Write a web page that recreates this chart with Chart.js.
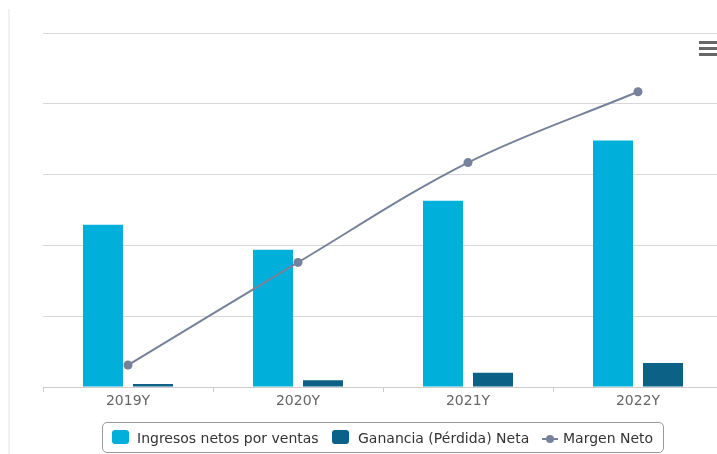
<!DOCTYPE html>
<html><head><meta charset="utf-8">
<script src="https://cdn.jsdelivr.net/npm/chart.js@4"></script>
<style>
html,body{margin:0;padding:0;background:#fff;overflow:hidden;width:717px;height:454px;}
#wrap{position:relative;width:717px;height:454px;overflow:hidden;}
canvas{position:absolute;left:0;top:0;}
.edge{position:absolute;left:8px;top:9px;width:2px;height:445px;background:#f1f1f1;}
.burger{position:absolute;left:699px;width:20px;height:3px;background:#666;}
#legendBox{position:absolute;left:102px;top:422px;width:562px;height:31px;border:1px solid #999;border-radius:5px;box-sizing:border-box;}
.lgText{position:absolute;top:430px;font:14px 'DejaVu Sans';color:#333;line-height:16px;white-space:nowrap;}
.lgSwatch{position:absolute;top:430px;width:17px;height:14px;border-radius:3px;}
.lgLine{position:absolute;top:434px;}
</style></head><body>
<div id="wrap">
<canvas id="c" width="740" height="454" style="width:740px;height:454px"></canvas>
<div class="edge"></div>
<div class="burger" style="top:41px"></div>
<div class="burger" style="top:47px"></div>
<div class="burger" style="top:53px"></div>
<div id="legendBox"></div>
</div>
<script>
const categories = ['2019Y', '2020Y', '2021Y', '2022Y'];
const ingresos = [2.29, 1.94, 2.63, 3.48];
const ganancia = [0.042, 0.095, 0.20, 0.34];
const margen = [0.31, 1.76, 3.17, 4.17];
const seriesNames = ['Ingresos netos por ventas', 'Ganancia (Pérdida) Neta', 'Margen Neto'];
const seriesColors = ['#00B0DA', '#0B6286', '#768299'];
const yMin = 0, yMax = 5, yStep = 1;

const FONT = "'DejaVu Sans', sans-serif";

// HTML legend built from series names/colours
(function buildLegend(){
  const wrap = document.getElementById('wrap');
  const symbolLeft = [112, 332, 542];
  const textLeft = [137, 358, 563];
  seriesNames.forEach((name, i) => {
    let sym;
    if (i < 2) {
      sym = document.createElement('div');
      sym.className = 'lgSwatch';
      sym.style.background = seriesColors[i];
    } else {
      sym = document.createElementNS('http://www.w3.org/2000/svg', 'svg');
      sym.setAttribute('class', 'lgLine');
      sym.setAttribute('width', '16');
      sym.setAttribute('height', '10');
      sym.innerHTML = '<line x1="0" y1="5" x2="16" y2="5" stroke="' + seriesColors[i] + '" stroke-width="2"/>' +
                      '<circle cx="8" cy="5" r="4" fill="' + seriesColors[i] + '"/>';
    }
    sym.style.left = symbolLeft[i] + 'px';
    wrap.appendChild(sym);
    const t = document.createElement('div');
    t.className = 'lgText';
    t.style.left = textLeft[i] + 'px';
    t.textContent = name;
    wrap.appendChild(t);
  });
})();

new Chart(document.getElementById('c'), {
  type: 'bar',
  data: {
    labels: categories,
    datasets: [
      { label: seriesNames[0], data: ingresos, backgroundColor: seriesColors[0], borderWidth: 0,
        categoryPercentage: 100/170, barPercentage: 0.8, yAxisID: 'y' },
      { label: seriesNames[1], data: ganancia, backgroundColor: seriesColors[1], borderWidth: 0,
        categoryPercentage: 100/170, barPercentage: 0.8, yAxisID: 'y' },
      { type: 'line', label: seriesNames[2], data: margen, borderColor: seriesColors[2],
        backgroundColor: seriesColors[2], borderWidth: 2, tension: 0.35, pointRadius: 4.5,
        pointBackgroundColor: seriesColors[2], pointBorderWidth: 0, fill: false, order: -1, yAxisID: 'y1' }
    ]
  },
  options: {
    responsive: false,
    animation: false,
    devicePixelRatio: 1,
    events: [],
    layout: { padding: { left: 43, right: 17, top: 33, bottom: 42 } },
    plugins: { legend: { display: false }, tooltip: { enabled: false } },
    scales: {
      x: {
        grid: { offset: true, drawOnChartArea: false, drawTicks: true, tickLength: 5, color: '#cccccc' },
        border: { color: '#cccccc' },
        ticks: { color: '#666666', font: { family: FONT, size: 14 }, padding: 1, maxRotation: 0 },
        afterFit: (s) => { s.height = 25; }
      },
      y: {
        min: yMin, max: yMax,
        ticks: { stepSize: yStep, display: false },
        grid: { color: '#d8d8d8', drawTicks: false },
        border: { display: false }
      },
      y1: { display: false, min: yMin, max: yMax }
    }
  }
});
</script>
</body></html>
